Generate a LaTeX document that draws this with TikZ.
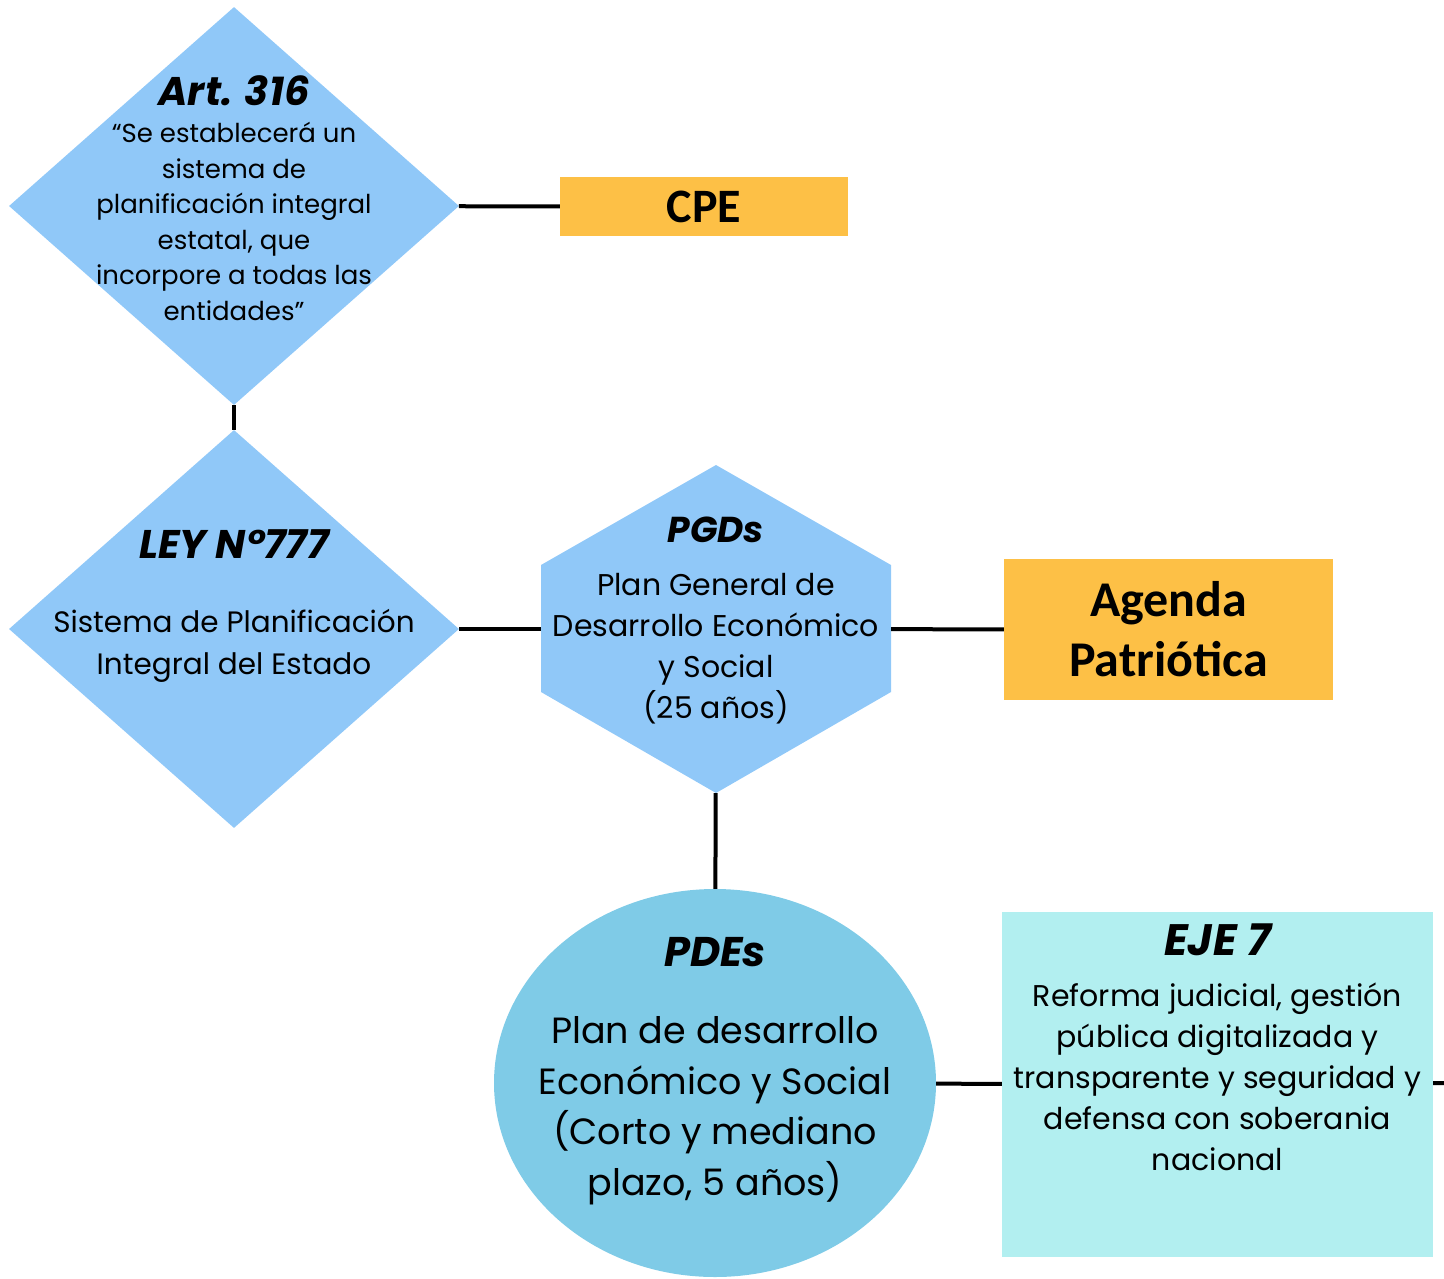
\documentclass[tikz,border=0pt]{standalone}
\usepackage{fontspec}
\setmainfont{Poppins}
\newfontfamily\boxfont{Carlito}
\usetikzlibrary{shapes.geometric}

\definecolor{rombo}{HTML}{90C8F8}
\definecolor{circ}{HTML}{7FCBE7}
\definecolor{ejec}{HTML}{B2EFF0}
\definecolor{naranja}{HTML}{FDC046}

% title line inside a shape
\newcommand{\ttl}[2]{{\fontsize{#1}{#1}\selectfont\bfseries\itshape #2}}
\newcommand{\fs}[2]{\fontsize{#1}{#2}\selectfont}

\begin{document}
\begin{tikzpicture}[x=1pt,y=-1pt,
rmb/.style = {diamond,fill=rombo,minimum width=450pt,minimum height=398pt,inner sep=0pt},
hexa/.style = {minimum width=350pt,minimum height=328pt,inner sep=0pt,
  path picture={\fill[rombo] (path picture bounding box.north) -- ++(175,100) -- ++(0,127)
    -- ++(-175,101) -- ++(-175,-101) -- ++(0,-127) -- cycle;}},
elip/.style = {ellipse,fill=circ,minimum width=442pt,minimum height=388pt,inner sep=0pt},
eje/.style = {rectangle,fill=ejec,minimum width=431pt,minimum height=345pt,inner sep=0pt},
nar/.style = {rectangle,fill=naranja,inner sep=0pt,align=center},
edg/.style = {draw,line width=4pt},
txt/.style = {align=center,inner sep=0pt}
]
  \useasboundingbox (0,0) rectangle (1444,1278);

  \node[rmb, label={[txt,yshift=8pt,font=\fs{26}{35.5}]center:\ttl{40}{Art. 316}\\[2pt]
    ``Se establecerá un\\ sistema de\\ planificación integral\\
    estatal, que\\ incorpore a todas las\\ entidades''}] (art) at (234,206) {};
  \node[rmb, label={[txt,yshift=23pt,font=\fs{29.5}{42}]center:\ttl{40}{LEY N°777}\\[32pt]
    Sistema de Planificación\\ Integral del Estado}] (ley) at (234,629) {};
  \node[hexa, label={[txt,yshift=9pt,font=\fs{30}{41}]center:\ttl{36}{PGDs}\\[12pt]
    Plan General de\\ Desarrollo Económico\\ y Social\\ (25 años)}] (pgd) at (716,629) {};
  \node[elip, label={[txt,yshift=12pt,font=\fs{36.5}{50.5}]center:\ttl{41.5}{PDEs}\\[27pt]
    Plan de desarrollo\\ Económico y Social\\ (Corto y mediano\\ plazo, 5 años)}] (pde) at (715,1083) {};
  \node[eje, label={[txt,yshift=37pt,font=\fs{30}{41}]center:\ttl{44}{EJE 7}\\[10pt]
    Reforma judicial, gestión\\ pública digitalizada y\\
    transparente y seguridad y\\ defensa con soberania\\ nacional}] (eje) at (1217.5,1084.5) {};

  \node[nar, font=\boxfont\bfseries\fs{48}{60}, minimum width=288pt, minimum height=59pt] (cpe) at (704,206.5) {CPE};
  \node[nar, font=\boxfont\bfseries\fs{50}{60}, minimum width=329pt, minimum height=141pt] (agenda) at (1168.5,629.5) {Agenda\\ Patriótica};
  \coordinate (fin) at (1444,1083);

  \path[edg] (art) -- (cpe);
  \path[edg] (art) -- (ley);
  \path[edg] (ley) -- (pgd);
  \path[edg] (pgd) -- (agenda);
  \path[edg] (pgd) -- (pde);
  \path[edg] (pde) -- (eje);
  \path[edg] (eje) -- (fin);
\end{tikzpicture}
\end{document}
